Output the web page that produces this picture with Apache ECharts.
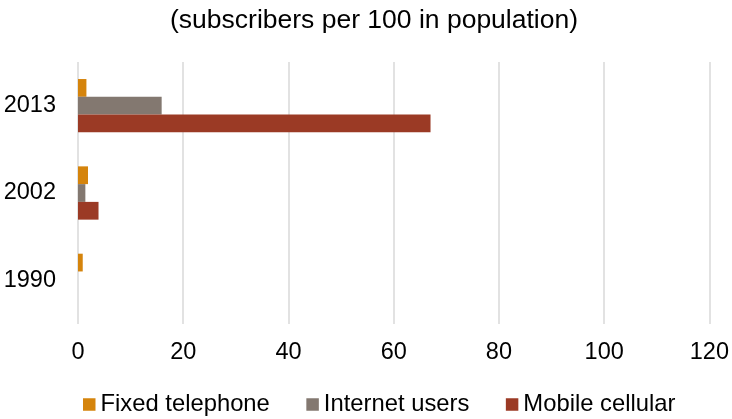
<!DOCTYPE html>
<html>
<head>
<meta charset="utf-8">
<script src="https://cdn.jsdelivr.net/npm/echarts@6/dist/echarts.min.js"></script>
<style>html,body{margin:0;padding:0;background:#fff}#c{width:732px;height:419px}</style>
</head>
<body>
<div id="c"></div>
<script>
const titleText = '(subscribers per 100 in population)';
const years = ['1990', '2002', '2013'];
const fixedTelephone = [0.9, 1.9, 1.6];
const internetUsers = [0, 1.4, 15.9];
const mobileCellular = [0, 3.9, 67.0];
const xTicks = { min: 0, max: 120, interval: 20 };

const font = 'Liberation Sans, Arial, sans-serif';
const chart = echarts.init(document.getElementById('c'));
chart.setOption({
  animation: false,
  backgroundColor: '#fff',
  title: {
    text: titleText, left: 165, top: 2,
    textStyle: { fontFamily: font, fontSize: 26.5, fontWeight: 'normal', color: '#000' }
  },
  legend: {
    bottom: 2.5, left: 83, padding: 0, itemWidth: 12.5, itemHeight: 12.5, itemGap: 36.5,
    icon: 'rect',
    data: ['Fixed telephone', 'Internet users', 'Mobile cellular'],
    textStyle: { fontFamily: font, fontSize: 23.8, color: '#000' }
  },
  grid: { left: 78, right: 22, top: 62, bottom: 95, containLabel: false },
  xAxis: {
    type: 'value', min: xTicks.min, max: xTicks.max, interval: xTicks.interval,
    axisLine: { show: false }, axisTick: { show: false },
    axisLabel: { fontFamily: font, fontSize: 23.5, color: '#000', margin: 17 },
    splitLine: { lineStyle: { color: '#d9d9d9', width: 1.5 } }
  },
  yAxis: {
    type: 'category', data: years,
    axisLine: { show: false }, axisTick: { show: false },
    axisLabel: { fontFamily: font, fontSize: 23.5, color: '#000', margin: 22 }
  },
  series: [
    { name: 'Fixed telephone', type: 'bar', data: fixedTelephone, itemStyle: { color: '#d5840c' }, barGap: '0%', barCategoryGap: '39%' },
    { name: 'Internet users', type: 'bar', data: internetUsers, itemStyle: { color: '#837870' } },
    { name: 'Mobile cellular', type: 'bar', data: mobileCellular, itemStyle: { color: '#9b3a25' } }
  ]
});
</script>
</body>
</html>
